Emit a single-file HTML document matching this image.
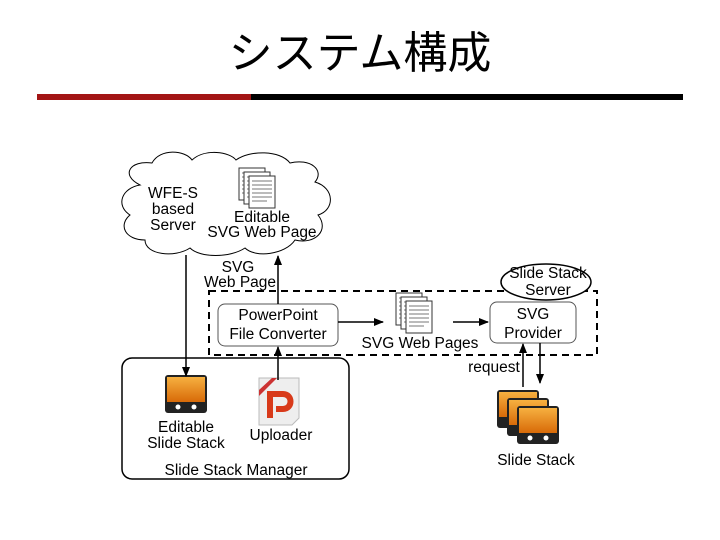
<!DOCTYPE html>
<html><head><meta charset="utf-8"><style>html,body{margin:0;padding:0;background:#fff}svg{display:block}</style></head>
<body>
<svg width="720" height="540" viewBox="0 0 720 540" xmlns="http://www.w3.org/2000/svg" font-family="Liberation Sans, sans-serif">
<defs>
<marker id="a" markerWidth="10" markerHeight="8" refX="9" refY="4" orient="auto" markerUnits="userSpaceOnUse"><path d="M0,0 L10,4 L0,8 z" fill="#000"/></marker>
<linearGradient id="og" x1="0" y1="0" x2="0" y2="1"><stop offset="0" stop-color="#f6b040"/><stop offset="1" stop-color="#d86a08"/></linearGradient>
<g id="slide"><rect x="0" y="0" width="42" height="38" rx="3" fill="#222"/><rect x="2" y="2" width="38" height="25" fill="url(#og)"/><circle cx="13" cy="32" r="2.5" fill="#fff"/><circle cx="29" cy="32" r="2.5" fill="#fff"/></g>
<g id="doc"><rect x="0" y="0" width="26" height="32" fill="#fff" stroke="#333"/><g stroke="#777" stroke-width="1"><line x1="3" y1="5" x2="23" y2="5"/><line x1="3" y1="9" x2="23" y2="9"/><line x1="3" y1="13" x2="23" y2="13"/><line x1="3" y1="17" x2="23" y2="17"/><line x1="3" y1="21" x2="23" y2="21"/><line x1="3" y1="25" x2="18" y2="25"/></g></g>
<g id="docs"><use href="#doc" x="0" y="0"/><use href="#doc" x="5" y="4"/><use href="#doc" x="10" y="8"/></g>
</defs>
<text x="360" y="68" font-size="44" text-anchor="middle" font-family="Liberation Sans, Noto Sans CJK JP, sans-serif">システム構成</text>
<rect x="37" y="94" width="214" height="6" fill="#a31515"/>
<rect x="251" y="94" width="432" height="6" fill="#000"/>
<path d="M140,185 C120,175 130,160 152,163 C160,148 185,150 192,160 C205,148 230,152 236,160 C250,150 280,150 290,163 C310,158 325,170 315,182 C335,188 335,210 318,215 C330,230 315,245 295,240 C285,255 255,258 245,248 C230,258 200,258 190,248 C175,258 145,255 145,240 C125,240 118,225 130,215 C115,205 122,188 140,185 Z" fill="#fff" stroke="#000" stroke-width="1"/>
<use href="#docs" x="239" y="168"/>
<g font-size="15.5" text-anchor="middle">
<text x="173" y="198">WFE-S</text><text x="173" y="214">based</text><text x="173" y="230">Server</text>
<text x="262" y="222">Editable</text><text x="262" y="237">SVG Web Page</text>
<text x="238" y="272">SVG</text><text x="240" y="287">Web Page</text>
</g>
<rect x="209" y="291" width="388" height="64" fill="none" stroke="#000" stroke-width="2" stroke-dasharray="7,5"/>
<rect x="218" y="304" width="120" height="42" rx="7" fill="#fff" stroke="#555"/>
<rect x="490" y="302" width="86" height="41" rx="7" fill="#fff" stroke="#555"/>
<ellipse cx="546" cy="282" rx="45" ry="18" fill="#fff" stroke="#000" stroke-width="1.5"/>
<rect x="122" y="358" width="227" height="121" rx="10" fill="#fff" stroke="#000" stroke-width="1.5"/>
<use href="#docs" x="396" y="293"/>
<use href="#slide" x="165" y="375"/>
<use href="#slide" x="497" y="390"/><use href="#slide" x="507" y="398"/><use href="#slide" x="517" y="406"/>
<path d="M259,378 H299 V418 L292,425 H259 Z" fill="#eee" stroke="#bbb"/>
<path d="M270,418 V394 H283 C293,394 293,409 283,409 H276" fill="none" stroke="#d83a1a" stroke-width="6"/>
<path d="M259,390 L272,378 L277,378 L259,396 Z" fill="#c33"/>
<g font-size="15.5" text-anchor="middle">
<text x="278" y="320">PowerPoint</text><text x="278" y="339">File Converter</text>
<text x="420" y="348">SVG Web Pages</text>
<text x="533" y="319">SVG</text><text x="533" y="338">Provider</text>
<text x="548" y="278">Slide Stack</text><text x="548" y="295">Server</text>
<text x="494" y="372">request</text>
<text x="536" y="465">Slide Stack</text>
<text x="186" y="432">Editable</text><text x="186" y="448">Slide Stack</text>
<text x="281" y="440">Uploader</text>
<text x="236" y="475">Slide Stack Manager</text>
</g>
<g stroke="#000" stroke-width="1.5" marker-end="url(#a)">
<line x1="186" y1="255" x2="186" y2="376"/>
<line x1="278" y1="304" x2="278" y2="256"/>
<line x1="278" y1="380" x2="278" y2="347"/>
<line x1="338" y1="322" x2="383" y2="322"/>
<line x1="453" y1="322" x2="488" y2="322"/>
<line x1="523" y1="387" x2="523" y2="344"/>
<line x1="540" y1="343" x2="540" y2="383"/>
</g>
</svg>
</body></html>
